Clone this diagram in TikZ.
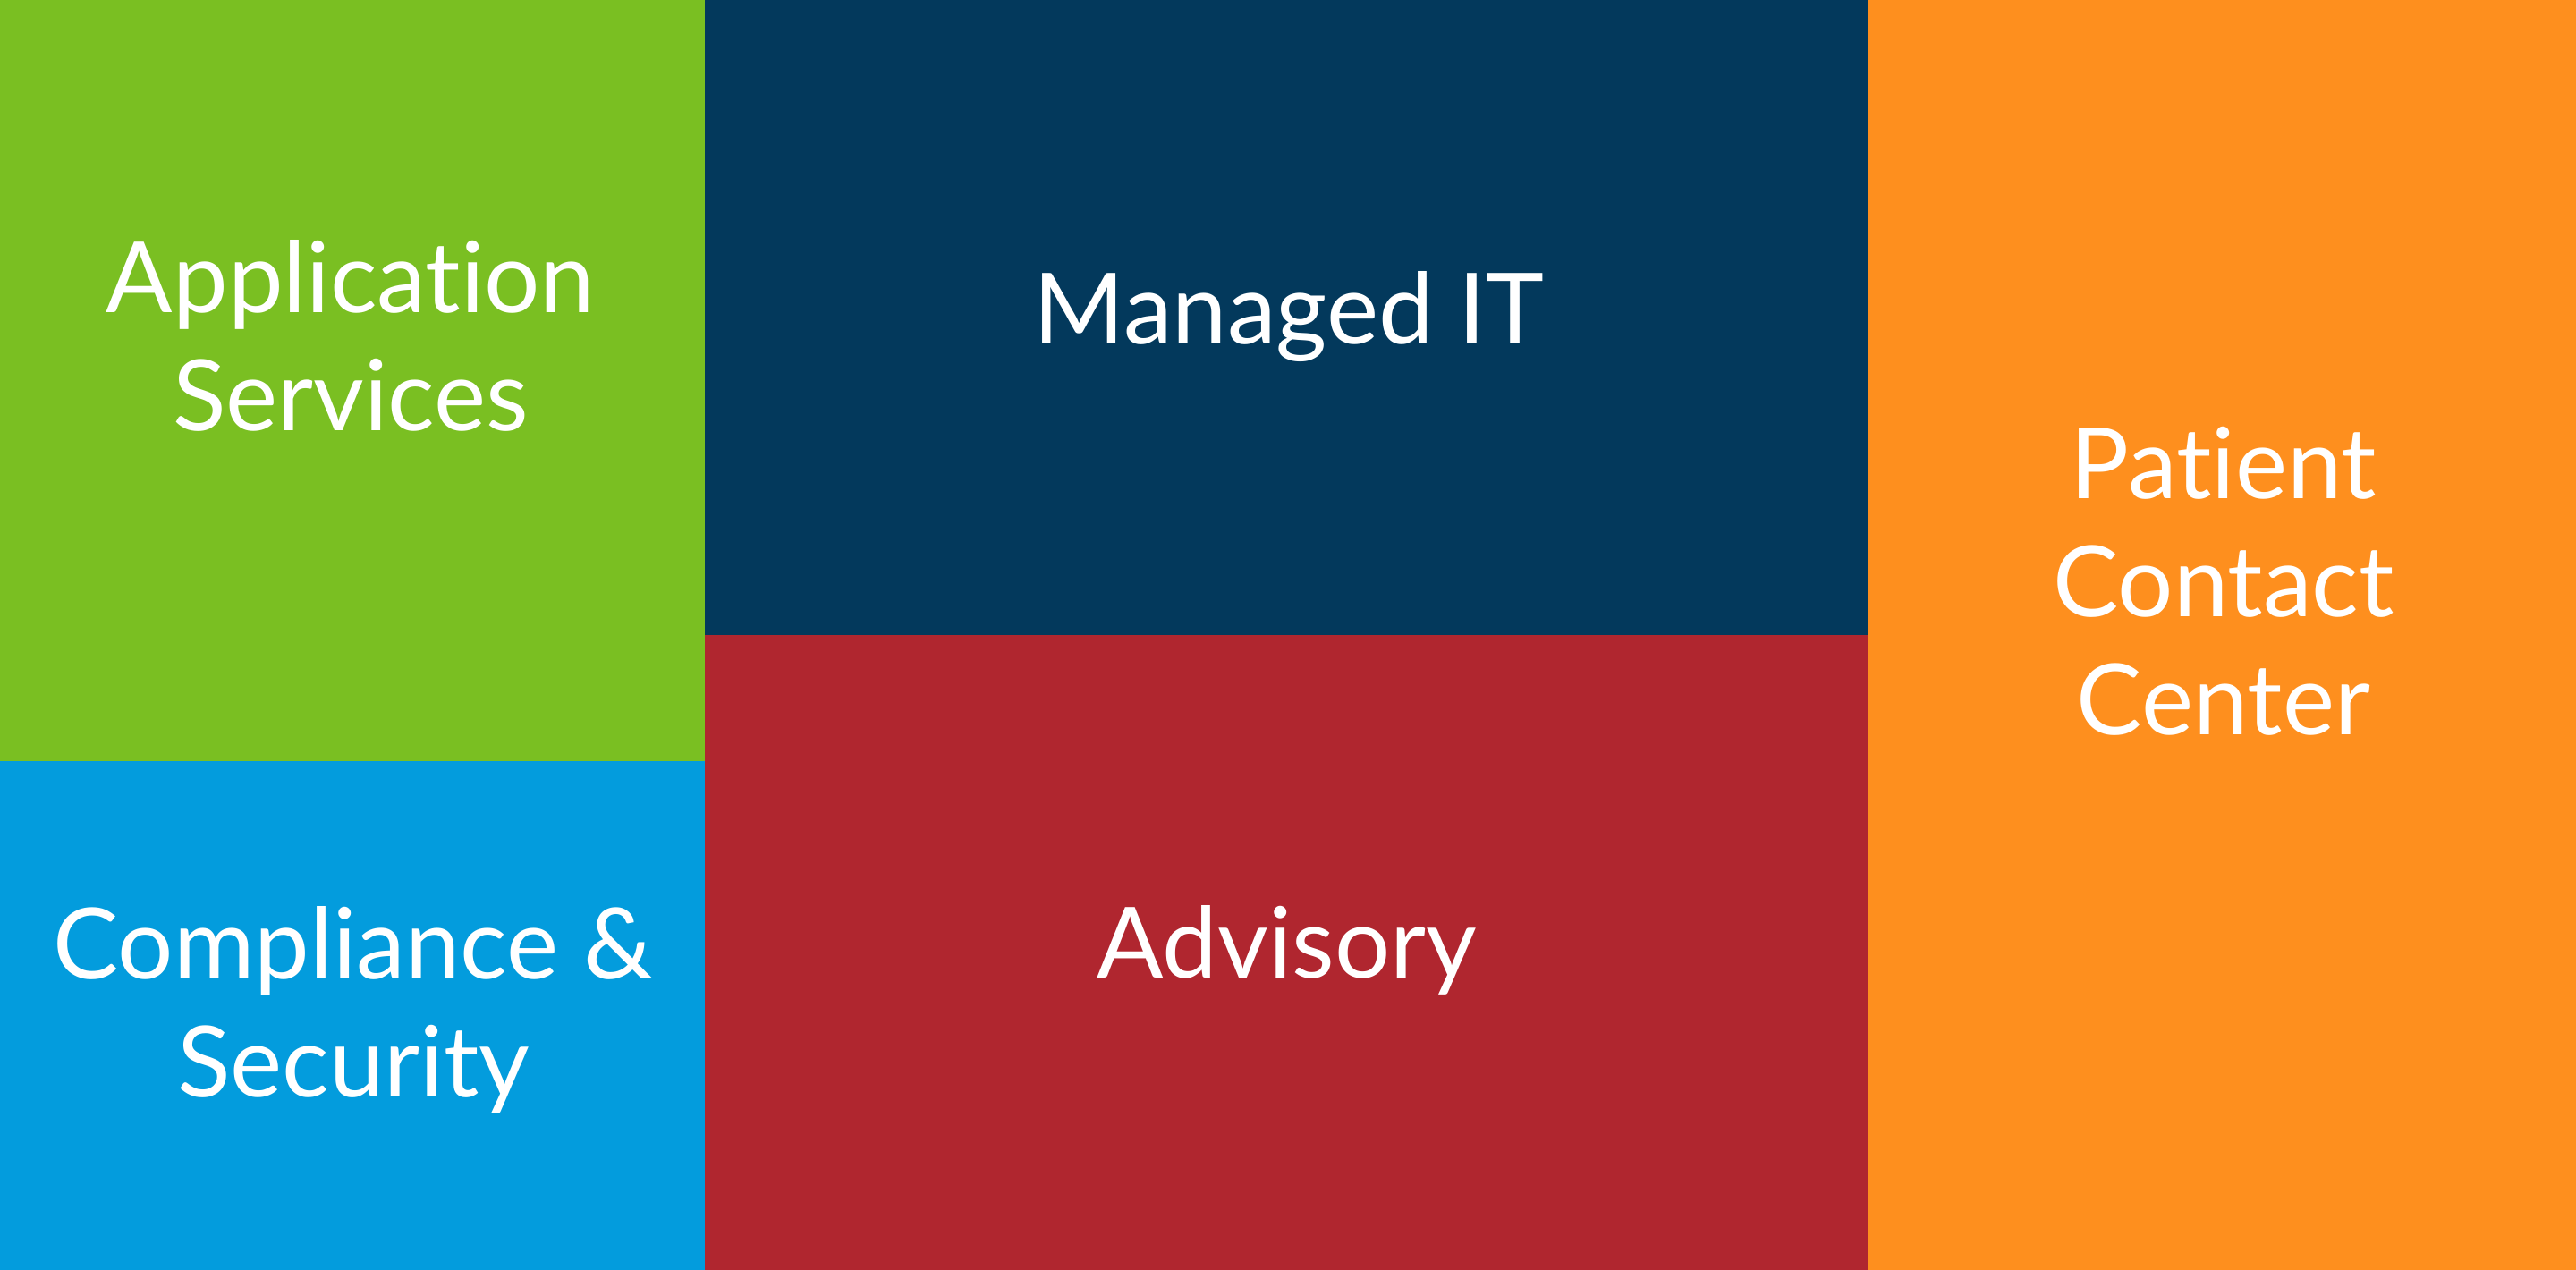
\documentclass[tikz,border=0pt]{standalone}
\usepackage{fontspec}
\setmainfont{Lato}[Ligatures=CommonOff]
\definecolor{appgreen}{HTML}{7ABF22}
\definecolor{secblue}{HTML}{039CDD}
\definecolor{itnavy}{HTML}{03395C}
\definecolor{advred}{HTML}{B0262F}
\definecolor{pccorange}{HTML}{FE8F1E}
\begin{document}
\begin{tikzpicture}[
		label/.style={text=white, align=center, anchor=base, inner sep=0pt,
			font=\fontsize{31.3}{37.6}\selectfont}]

	\useasboundingbox (0,0) rectangle (28.8,14.2);

	% Tiles: left column, middle column, right column
	\foreach \col/\xa/\ya/\xb/\yb in {appgreen/0/5.69/7.88/14.2, secblue/0/0/7.88/5.69,
			itnavy/7.88/7.10/20.89/14.2, advred/7.88/0/20.89/7.10,
			pccorange/20.89/0/28.8/14.2} {
			\fill[\col] (\xa,\ya) rectangle (\xb,\yb);
		}

	% Labels (base = baseline of the last line)
	\node[label] (apps) at (3.92, 9.38) {Application\\Services};
	\node[label] (comp) at (3.95, 1.93) {Compliance \&\\Security};
	\node[label] (mit) at (14.41, 10.35) {Managed IT};
	\node[label] (adv) at (14.39, 3.26) {Advisory};
	\node[label] (pcc) at (24.86, 5.98) {Patient\\Contact\\Center};
\end{tikzpicture}
\end{document}
